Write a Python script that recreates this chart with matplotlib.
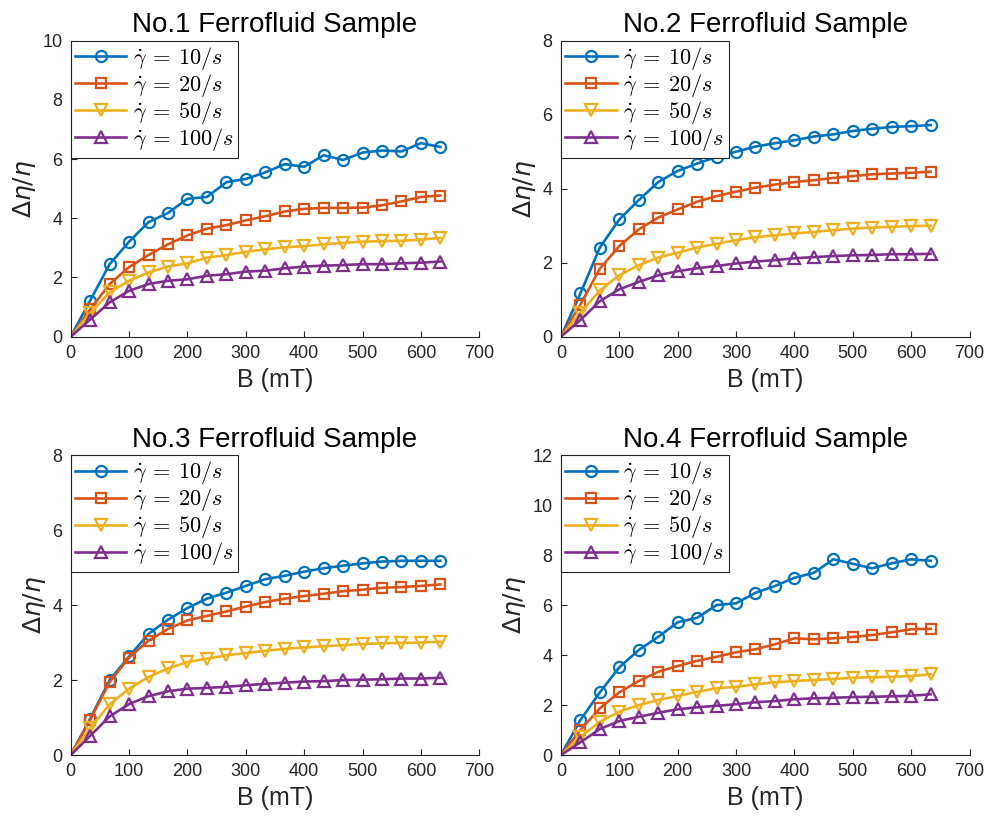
import matplotlib
matplotlib.use('Agg')
import numpy as np
import matplotlib.pyplot as plt
from matplotlib.font_manager import FontProperties

plt.rcParams['font.family'] = ['Liberation Sans', 'DejaVu Sans']

# magnetic field (mT), first point is the origin
B = [0, 33.3, 66.7, 100, 133.3, 166.7, 200, 233.3, 266.7, 300, 333.3,
     366.7, 400, 433.3, 466.7, 500, 533.3, 566.7, 600, 633.3]

# sample 1
s1_10 = [0, 1.22, 2.45, 3.21, 3.87, 4.18, 4.66, 4.72, 5.22, 5.33, 5.55,
         5.83, 5.74, 6.13, 5.97, 6.22, 6.29, 6.26, 6.54, 6.41]
s1_20 = [0, 0.92, 1.78, 2.35, 2.76, 3.12, 3.42, 3.65, 3.77, 3.93, 4.07,
         4.23, 4.32, 4.35, 4.35, 4.36, 4.44, 4.57, 4.72, 4.77]
s1_50 = [0, 0.80, 1.50, 1.89, 2.17, 2.37, 2.48, 2.67, 2.76, 2.87, 2.95,
         3.02, 3.06, 3.12, 3.17, 3.21, 3.23, 3.24, 3.28, 3.34]
s1_100 = [0, 0.58, 1.16, 1.55, 1.78, 1.89, 1.94, 2.06, 2.11, 2.20, 2.23,
          2.31, 2.37, 2.40, 2.42, 2.45, 2.45, 2.48, 2.50, 2.54]

# sample 2
s2_10 = [0, 1.17, 2.41, 3.17, 3.69, 4.18, 4.48, 4.68, 4.86, 5.00, 5.14,
         5.23, 5.31, 5.41, 5.47, 5.56, 5.62, 5.67, 5.69, 5.72]
s2_20 = [0, 0.87, 1.84, 2.45, 2.90, 3.22, 3.44, 3.65, 3.80, 3.92, 4.03,
         4.11, 4.18, 4.23, 4.29, 4.34, 4.39, 4.41, 4.43, 4.46]
s2_50 = [0, 0.65, 1.25, 1.66, 1.93, 2.14, 2.27, 2.41, 2.51, 2.61, 2.69,
         2.74, 2.79, 2.83, 2.88, 2.92, 2.95, 2.97, 2.99, 3.00]
s2_100 = [0, 0.45, 0.96, 1.28, 1.48, 1.66, 1.77, 1.85, 1.91, 1.98, 2.03,
          2.07, 2.12, 2.15, 2.18, 2.20, 2.21, 2.23, 2.23, 2.24]

# sample 3
s3_10 = [0, 0.97, 2.00, 2.63, 3.23, 3.61, 3.92, 4.17, 4.33, 4.51, 4.69,
         4.78, 4.89, 4.98, 5.05, 5.11, 5.16, 5.18, 5.18, 5.18]
s3_20 = [0, 0.94, 1.95, 2.60, 3.05, 3.36, 3.59, 3.71, 3.83, 3.96, 4.08,
         4.17, 4.24, 4.30, 4.37, 4.41, 4.46, 4.48, 4.51, 4.55]
s3_50 = [0, 0.72, 1.35, 1.77, 2.08, 2.31, 2.48, 2.57, 2.66, 2.72, 2.78,
         2.83, 2.87, 2.90, 2.93, 2.96, 2.98, 2.99, 3.00, 3.02]
s3_100 = [0, 0.51, 1.03, 1.36, 1.57, 1.70, 1.77, 1.79, 1.82, 1.86, 1.90,
          1.93, 1.96, 1.97, 2.00, 2.01, 2.02, 2.04, 2.04, 2.06]

# sample 4
s4_10 = [0, 1.40, 2.51, 3.51, 4.20, 4.73, 5.31, 5.49, 6.00, 6.07, 6.49,
         6.76, 7.09, 7.29, 7.83, 7.65, 7.47, 7.67, 7.83, 7.77]
s4_20 = [0, 1.00, 1.87, 2.51, 2.96, 3.33, 3.56, 3.77, 3.93, 4.11, 4.23,
         4.43, 4.67, 4.63, 4.67, 4.72, 4.80, 4.91, 5.03, 5.05]
s4_50 = [0, 0.73, 1.33, 1.73, 2.00, 2.20, 2.36, 2.53, 2.67, 2.73, 2.83,
         2.91, 2.96, 3.00, 3.04, 3.09, 3.11, 3.13, 3.16, 3.23]
s4_100 = [0, 0.51, 1.04, 1.36, 1.53, 1.69, 1.83, 1.91, 1.97, 2.03, 2.11,
          2.16, 2.23, 2.27, 2.29, 2.32, 2.33, 2.35, 2.37, 2.43]

titles = ['No.1 Ferrofluid Sample', 'No.2 Ferrofluid Sample',
          'No.3 Ferrofluid Sample', 'No.4 Ferrofluid Sample']
samples = [[s1_10, s1_20, s1_50, s1_100],
           [s2_10, s2_20, s2_50, s2_100],
           [s3_10, s3_20, s3_50, s3_100],
           [s4_10, s4_20, s4_50, s4_100]]
ymax = [10, 8, 8, 12]
rates = [10, 20, 50, 100]

colors = ['#0072BD', '#D95319', '#EDB120', '#7E2F8E']
markers = ['o', 's', 'v', '^']
msizes = [8, 7, 8, 8]
axcol = '#262626'

fig = plt.figure(figsize=(9.85, 8.19), dpi=100)
# axes rectangles in figure fractions
rects = [[0.0718, 0.5889, 0.4148, 0.3614],
         [0.5695, 0.5889, 0.4148, 0.3614],
         [0.0718, 0.0781, 0.4148, 0.3663],
         [0.5695, 0.0781, 0.4148, 0.3663]]

leg_prop = FontProperties(size=16, math_fontfamily='cm')

for k in range(4):
    ax = fig.add_axes(rects[k])
    for j in range(4):
        ax.plot(B, samples[k][j], color=colors[j], marker=markers[j],
                markersize=msizes[j], markerfacecolor='none',
                markeredgewidth=1.6, linewidth=1.9,
                markevery=slice(1, None),
                label=r'$\dot{\gamma}\:=\:%d/s$' % rates[j])
    ax.set_xlim(0, 700)
    ax.set_ylim(0, ymax[k])
    ax.set_xticks(np.arange(0, 701, 100))
    ax.set_yticks(np.arange(0, ymax[k] + 1, 2))
    ax.spines['top'].set_visible(False)
    ax.spines['right'].set_visible(False)
    for s in ['left', 'bottom']:
        ax.spines[s].set_color(axcol)
        ax.spines[s].set_linewidth(0.8)
    ax.tick_params(direction='in', length=4, width=0.8, colors=axcol,
                   labelsize=13, pad=6)
    ax.set_title(titles[k], fontsize=20, pad=6, color='black')
    ax.set_xlabel('B (mT)', fontsize=18, color=axcol, labelpad=4)
    ax.set_ylabel(r'$\Delta\eta/\eta$', fontsize=18, color=axcol, labelpad=3)
    leg = ax.legend(loc='upper left', prop=leg_prop, fancybox=False,
                    framealpha=1, edgecolor=axcol, borderaxespad=0,
                    handlelength=2.3, labelspacing=0.0, borderpad=0.2,
                    handletextpad=0.3)
    leg.get_frame().set_linewidth(0.8)

fig.savefig('out.png', dpi=100)
